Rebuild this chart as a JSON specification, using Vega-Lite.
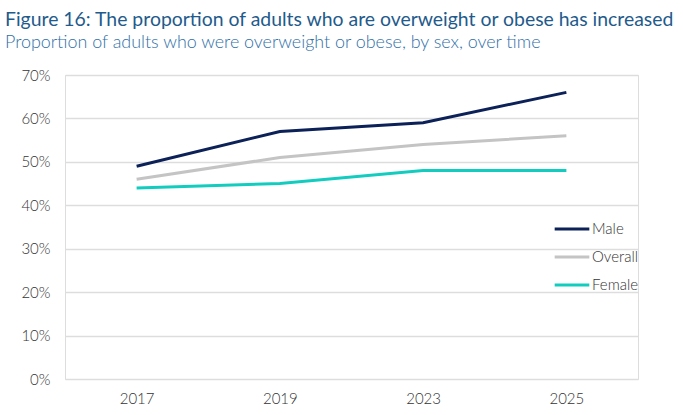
{
  "$schema": "https://vega.github.io/schema/vega-lite/v6.json",
  "width": 573,
  "height": 304,
  "autosize": {"type": "none"},
  "padding": {"left": 65, "top": 75, "right": 45, "bottom": 36},
  "background": "white",
  "title": {
    "text": "Figure 16: The proportion of adults who are overweight or obese has increased",
    "subtitle": "Proportion of adults who were overweight or obese, by sex, over time",
    "anchor": "start",
    "frame": "group",
    "dx": -60,
    "offset": 15,
    "font": "Lato",
    "fontSize": 19.4,
    "fontWeight": "normal",
    "color": "#1f5b8c",
    "subtitleFont": "Lato",
    "subtitleFontSize": 17.9,
    "subtitleFontWeight": 300,
    "subtitleColor": "#2f70a8",
    "subtitlePadding": 4
  },
  "data": {
    "values": [
      {"year": "2017", "group": "Male", "value": 0.49},
      {"year": "2019", "group": "Male", "value": 0.57},
      {"year": "2023", "group": "Male", "value": 0.59},
      {"year": "2025", "group": "Male", "value": 0.66},
      {"year": "2017", "group": "Overall", "value": 0.46},
      {"year": "2019", "group": "Overall", "value": 0.51},
      {"year": "2023", "group": "Overall", "value": 0.54},
      {"year": "2025", "group": "Overall", "value": 0.56},
      {"year": "2017", "group": "Female", "value": 0.44},
      {"year": "2019", "group": "Female", "value": 0.45},
      {"year": "2023", "group": "Female", "value": 0.48},
      {"year": "2025", "group": "Female", "value": 0.48}
    ]
  },
  "mark": {"type": "line", "strokeWidth": 3},
  "encoding": {
    "x": {
      "field": "year",
      "type": "ordinal",
      "scale": {"type": "point", "padding": 0.5},
      "axis": {
        "title": null,
        "labelAngle": 0,
        "domain": false,
        "ticks": false,
        "labelFont": "Lato",
        "labelFontSize": 15,
        "labelFontWeight": 300,
        "labelColor": "#333333",
        "labelPadding": 12,
        "grid": false
      }
    },
    "y": {
      "field": "value",
      "type": "quantitative",
      "scale": {"domain": [0, 0.7]},
      "axis": {
        "title": null,
        "format": ".0%",
        "values": [0, 0.1, 0.2, 0.3, 0.4, 0.5, 0.6, 0.7],
        "domain": false,
        "ticks": false,
        "labelFont": "Lato",
        "labelFontSize": 15,
        "labelFontWeight": 300,
        "labelColor": "#333333",
        "labelPadding": 15,
        "gridColor": "#dddddd",
        "gridWidth": 1.5
      }
    },
    "color": {
      "field": "group",
      "type": "nominal",
      "sort": ["Male", "Overall", "Female"],
      "scale": {"domain": ["Male", "Overall", "Female"], "range": ["#0b2157", "#c4c4c4", "#12cdbf"]},
      "legend": {
        "title": null,
        "orient": "none",
        "legendX": 488,
        "legendY": 146,
        "symbolType": "stroke",
        "symbolSize": 1200,
        "symbolStrokeWidth": 3,
        "clipHeight": 16,
        "labelFont": "Lato",
        "labelFontSize": 15,
        "labelFontWeight": 300,
        "labelColor": "#333333",
        "labelOffset": 1,
        "rowPadding": 12
      }
    }
  }
}
